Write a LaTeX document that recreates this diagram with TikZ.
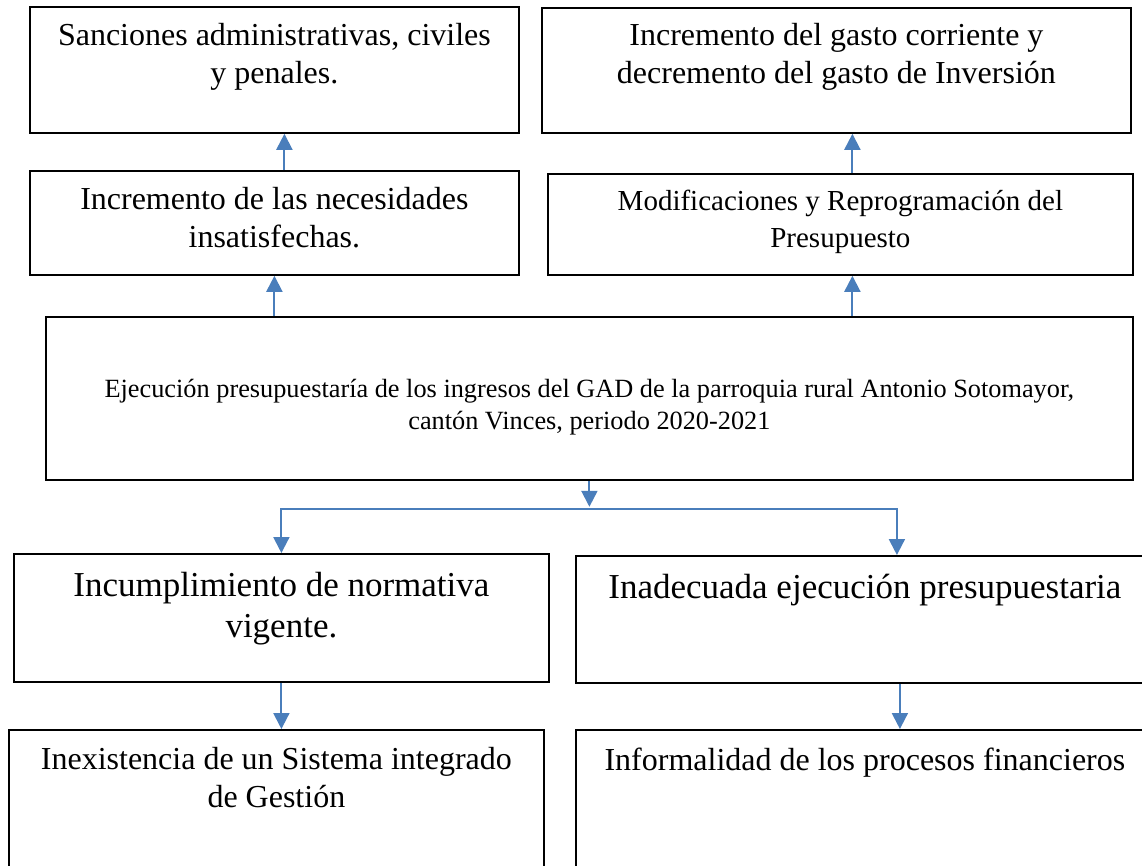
\documentclass[tikz,border=0pt]{standalone}
\usepackage{fontspec}
\setmainfont{Liberation Serif}
\usetikzlibrary{positioning,arrows.meta}
\definecolor{arrowblue}{RGB}{74,126,187}
\begin{document}
\begin{tikzpicture}[
    x=1pt, y=-1pt,
    box/.style={rectangle, draw, line width=1.8pt, anchor=north west, inner sep=0pt},
    txt/.style={anchor=north, align=center, inner sep=0pt},
    big/.style={font=\fontsize{32}{38}\selectfont},
    bigger/.style={font=\fontsize{35}{41}\selectfont},
    arrow/.style={line width=2pt, color=arrowblue, -{Triangle[width=16pt,length=16pt]}}
]
    \useasboundingbox (0,0) rectangle (1142,865);
    \clip (0,0) rectangle (1142,865);

    % Effects
    \node [box, minimum width=489pt, minimum height=126pt] (sanciones) at (29,6) {};
    \node [box, minimum width=589pt, minimum height=125pt] (gasto) at (541,7) {};
    \node [box, minimum width=489pt, minimum height=104pt] (necesidades) at (29,170) {};
    \node [box, minimum width=585pt, minimum height=101pt] (modificaciones) at (547,173) {};

    % Central problem
    \node [box, minimum width=1087pt, minimum height=163pt] (problema) at (45,316) {};

    % Causes
    \node [box, minimum width=535pt, minimum height=128pt] (normativa) at (13,553) {};
    \node [box, minimum width=578pt, minimum height=127pt] (ejecucion) at (575,555) {};
    \node [box, minimum width=535pt, minimum height=200pt] (sistema) at (8,729) {};
    \node [box, minimum width=578pt, minimum height=200pt] (procesos) at (575,729) {};

    % Texts
    \node [txt, big, below=17pt of sanciones.north] (t-sanciones) {Sanciones administrativas, civiles\\y penales.};
    \node [txt, big, below=16pt of gasto.north] (t-gasto) {Incremento del gasto corriente y\\decremento del gasto de Inversión};
    \node [txt, big, below=17pt of necesidades.north] (t-necesidades) {Incremento de las necesidades\\insatisfechas.};
    \node [txt, font=\fontsize{29}{37}\selectfont, below=17pt of modificaciones.north] (t-modificaciones) {Modificaciones y Reprogramación del\\Presupuesto};
    \node [txt, font=\fontsize{26.3}{32}\selectfont, below=63pt of problema.north] (t-problema) {Ejecución presupuestaría de los ingresos del GAD de la parroquia rural Antonio Sotomayor,\\cantón Vinces, periodo 2020-2021};
    \node [txt, bigger, below=19pt of normativa.north] (t-normativa) {Incumplimiento de normativa\\vigente.};
    \node [txt, bigger, below=19pt of ejecucion.north] (t-ejecucion) {Inadecuada ejecución presupuestaria};
    \node [txt, big, below=18pt of sistema.north] (t-sistema) {Inexistencia de un Sistema integrado\\de Gestión};
    \node [txt, big, below=19pt of procesos.north] (t-procesos) {Informalidad de los procesos financieros};

    % Arrows up to the effects
    \draw [arrow] ([xshift=10pt]necesidades.north) -- ([xshift=10pt]necesidades.north |- sanciones.south);
    \draw [arrow] (problema.north -| necesidades.south) -- (necesidades.south);
    \draw [arrow] ([xshift=12pt]modificaciones.north) -- ([xshift=12pt]modificaciones.north |- gasto.south);
    \draw [arrow] ([xshift=12pt]problema.north -| modificaciones.south) -- ([xshift=12pt]modificaciones.south);

    % Arrows down to the causes
    \coordinate (split) at ([yshift=-28pt]problema.south);
    \draw [arrow, shorten >=2pt] (problema.south) -- (split);
    \draw [arrow] (split) -| (normativa.north);
    \draw [arrow] (split) -| ([xshift=32pt]ejecucion.north);
    \draw [arrow] (normativa.south) -- (normativa.south |- sistema.north);
    \draw [arrow] ([xshift=35pt]ejecucion.south) -- ([xshift=35pt]ejecucion.south |- procesos.north);
\end{tikzpicture}
\end{document}
